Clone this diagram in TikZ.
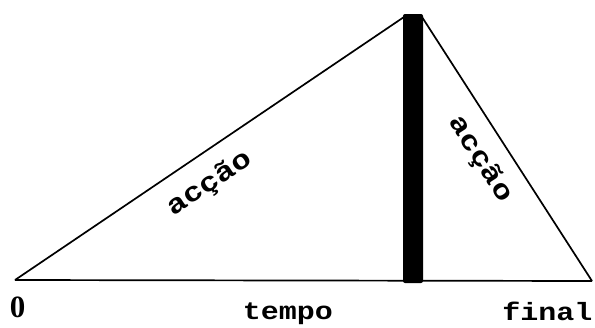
\documentclass[tikz,border=0pt]{standalone}
\usepackage{fontspec}
\newfontfamily\typefont[FakeStretch=1.2]{Liberation Mono}
\newfontfamily\zerofont{Liberation Serif}

\begin{document}
\begin{tikzpicture}[x=1pt, y=-1pt, line width=1.7pt,
    lbl/.style={font=\typefont\bfseries\fontsize{25}{25}\selectfont, inner sep=0pt},
    side/.style={font=\typefont\bfseries\fontsize{27}{27}\selectfont, inner sep=0pt}]
  \useasboundingbox (0,0) rectangle (595,327);
  \coordinate (O) at (15,280);
  \coordinate (L) at (404,17);
  \coordinate (R) at (422,17);
  \coordinate (F) at (592,281);
  \draw (O) -- (L);
  \draw (R) -- (F);
  \draw (O) -- (F);
  \fill[rounded corners=2pt] (403,14) rectangle (423,283);
  \node[side, rotate=34] (up) at (210,184) {acção};
  \node[side, rotate=-57.4] (down) at (480,159) {acção};
  \node[font=\zerofont\bfseries\fontsize{31}{31}\selectfont, inner sep=0pt, anchor=base] (zero) at (17.5,317) {0};
  \node[lbl, anchor=base] (tempo) at (288,319) {tempo};
  \node[lbl, anchor=base] (final) at (547.5,320) {final};
\end{tikzpicture}
\end{document}
